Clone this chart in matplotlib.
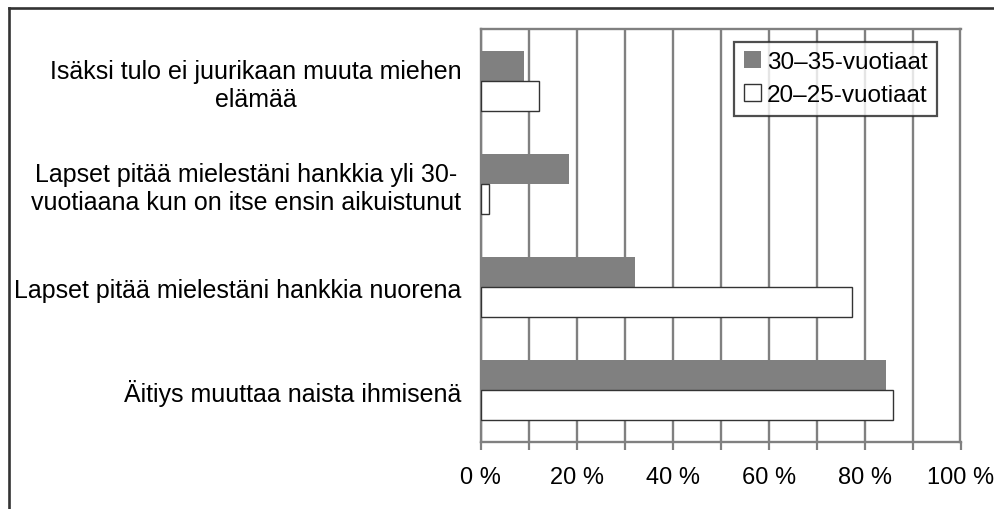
import matplotlib
matplotlib.use("Agg")
import matplotlib.pyplot as plt
from matplotlib.lines import Line2D
from matplotlib.ticker import FixedLocator
import numpy as np

plt.rcParams['font.family'] = ['Liberation Sans', 'DejaVu Sans']

categories = [
    "Isäksi tulo ei juurikaan muuta miehen\nelämää",
    "Lapset pitää mielestäni hankkia yli 30-\nvuotiaana kun on itse ensin aikuistunut",
    "Lapset pitää mielestäni hankkia nuorena",
    "Äitiys muuttaa naista ihmisenä",
]
series_names = ["30–35-vuotiaat", "20–25-vuotiaat"]
values_30_35 = [9.0, 18.4, 32.1, 84.4]
values_20_25 = [12.2, 1.7, 77.4, 86.0]
xtick_values = [0, 20, 40, 60, 80, 100]
xtick_labels = ["0 %", "20 %", "40 %", "60 %", "80 %", "100 %"]

W, H = 995, 510
fig = plt.figure(figsize=(W / 100, H / 100), dpi=100)
ax = fig.add_axes([480.7 / W, 1 - 443 / H, (960.5 - 480.7) / W, (443 - 30) / H])

y = np.arange(len(categories))
bh = 0.29
grey = "#808080"
ax.barh(y - bh / 2, values_30_35, height=bh, color=grey, edgecolor="none",
        label=series_names[0], zorder=3)
ax.barh(y + bh / 2, values_20_25, height=bh, color="white", edgecolor="#333333",
        linewidth=1.0, label=series_names[1], zorder=3)

ax.set_xlim(0, 100)
ax.set_ylim(len(categories) - 0.5, -0.5)
ax.set_yticks(y)
ax.set_yticklabels(categories, fontsize=18, multialignment="center", linespacing=1.2)
ax.tick_params(axis="y", length=0, pad=14)

ax.xaxis.set_major_locator(FixedLocator(xtick_values))
ax.set_xticklabels(xtick_labels, fontsize=17)
ax.xaxis.set_minor_locator(FixedLocator([10, 30, 50, 70, 90]))
ax.tick_params(axis="x", which="both", length=6, width=1.6, color=grey, pad=11)
ax.grid(True, axis="x", which="both", color=grey, linewidth=1.7, zorder=0)
ax.set_axisbelow(True)
for s in ax.spines.values():
    s.set_color(grey)
    s.set_linewidth(1.7)

leg = ax.legend(loc="upper right", bbox_to_anchor=(937 / W, 1 - 42.7 / H),
                bbox_transform=fig.transFigure, borderaxespad=0, fontsize=17.5,
                frameon=True, fancybox=False, handlelength=0.7, handleheight=0.7,
                handletextpad=0.25, labelspacing=0.45, borderpad=0.4)
leg.get_frame().set_edgecolor("#222222")
leg.get_frame().set_linewidth(1.6)
for h in leg.legend_handles:
    if h.get_facecolor()[0] < 0.9:
        h.set_edgecolor("none")

# figure border (left and top)
fig.add_artist(Line2D([9 / W, 9 / W], [0, 1 - 9 / H], color="#333333", lw=1.9,
                      transform=fig.transFigure, solid_capstyle="projecting"))
fig.add_artist(Line2D([9 / W, 1], [1 - 9 / H, 1 - 9 / H], color="#333333", lw=1.9,
                      transform=fig.transFigure, solid_capstyle="projecting"))

fig.savefig("out.png", dpi=100)
